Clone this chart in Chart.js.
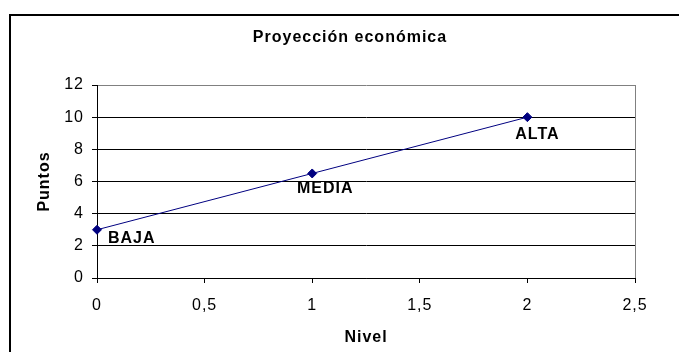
<!DOCTYPE html>
<html>
<head>
<meta charset="utf-8">
<script src="https://cdn.jsdelivr.net/npm/chart.js@4/dist/chart.umd.min.js"></script>
<style>
	html, body { margin: 0; padding: 0; background: #fff; overflow: hidden; }
	#wrap { position: relative; width: 679px; height: 352px; }
	#frame {
		position: absolute; left: 9px; top: 14px; width: 720px; height: 400px;
		border-left: 2px solid #000; border-top: 2px solid #000;
	}
	#chart { position: absolute; left: 0; top: 0; }
</style>
</head>
<body>
<div id="wrap">
	<div id="frame"></div>
	<canvas id="chart" width="679" height="352"></canvas>
</div>
<script>
/* Proyección económica — scatter with straight line and point labels */
var chartTitle = "Proyección económica";
var levels = [0, 1, 2];
var points = [3, 6.5, 10];
var pointLabels = ["BAJA", "MEDIA", "ALTA"];
var xTickLabels = ["0", "0,5", "1", "1,5", "2", "2,5"];
var yTickLabels = ["0", "2", "4", "6", "8", "10", "12"];

var FONT = "'Liberation Sans', Arial, sans-serif";
var NAVY = "#000080";

// label offsets from each point, in px (dx, baseline dy, align)
var labelPlacement = [
	{ dx: 11, dy: 13.5, align: "left" },
	{ dx: 13, dy: 20, align: "center" },
	{ dx: 10, dy: 22, align: "center" },
];

// Excel-like loose letter spacing; canvas resets state on resize, so set per draw
var spacingPlugin = {
	id: "spacing",
	beforeDraw: function (chart) {
		chart.ctx.letterSpacing = "1px";
	},
};

var decorPlugin = {
	id: "decor",
	afterDraw: function (chart) {
		var ctx = chart.ctx;
		ctx.save();
		ctx.letterSpacing = "1px";
		ctx.fillStyle = "#000";
		ctx.textBaseline = "middle";
		ctx.textAlign = "center";
		ctx.font = "bold 16px " + FONT;
		ctx.fillText(chartTitle, 350, 38);
		ctx.restore();
	},
	afterDatasetsDraw: function (chart) {
		var ctx = chart.ctx;
		var meta = chart.getDatasetMeta(0);
		ctx.save();
		ctx.letterSpacing = "1px";
		ctx.font = "bold 16px " + FONT;
		ctx.fillStyle = "#000";
		ctx.textBaseline = "alphabetic";
		meta.data.forEach(function (pt, i) {
			var p = labelPlacement[i];
			ctx.textAlign = p.align;
			ctx.fillText(pointLabels[i], pt.x + p.dx, pt.y + p.dy);
		});
		ctx.restore();
	},
};

new Chart(document.getElementById("chart"), {
	type: "scatter",
	data: {
		datasets: [{
			label: "Puntos",
			data: levels.map(function (x, i) { return { x: x, y: points[i] }; }),
			showLine: true,
			clip: false,
			borderColor: NAVY,
			borderWidth: 1,
			backgroundColor: NAVY,
			pointStyle: "rectRot",
			pointRadius: 4.5,
			pointBorderWidth: 1,
			pointBorderColor: NAVY,
		}],
	},
	options: {
		responsive: false,
		animation: false,
		events: [],
		layout: { padding: { left: 20, right: 44, top: 85, bottom: 5 } },
		plugins: {
			legend: { display: false },
			tooltip: { enabled: false },
			title: { display: false },
		},
		scales: {
			x: {
				type: "linear",
				min: 0,
				max: 2.5,
				afterFit: function (s) { s.height = 69; },
				afterBuildTicks: function (s) {
					s.ticks = xTickLabels.map(function (_, i) { return { value: i * 0.5 }; });
				},
				ticks: {
					color: "#000",
					font: { family: FONT, size: 16 },
					padding: 13,
					maxRotation: 0,
					callback: function (v, i) { return xTickLabels[i]; },
				},
				grid: {
					color: function (c) { return c.tick && c.tick.value === 2.5 ? "#808080" : "rgba(0,0,0,0)"; },
					tickColor: "#000",
					tickLength: 5,
					lineWidth: 1,
				},
				border: { color: "#000", width: 1 },
				title: {
					display: true,
					text: "Nivel",
					color: "#000",
					font: { family: FONT, size: 16, weight: "bold" },
					padding: { top: 15, bottom: 0 },
				},
			},
			y: {
				type: "linear",
				min: 0,
				max: 12,
				afterFit: function (s) { s.width = 77; },
				afterBuildTicks: function (s) {
					s.ticks = yTickLabels.map(function (_, i) { return { value: i * 2 }; });
				},
				ticks: {
					color: "#000",
					font: { family: FONT, size: 16 },
					padding: 8,
					callback: function (v, i) { return yTickLabels[i]; },
				},
				grid: {
					color: function (c) { return c.tick && c.tick.value === 12 ? "#808080" : "#000"; },
					tickColor: "#000",
					tickLength: 5,
					lineWidth: 1,
				},
				border: { color: "#000", width: 1 },
				title: {
					display: true,
					text: "Puntos",
					color: "#000",
					font: { family: FONT, size: 16, weight: "bold" },
					padding: { top: 15, bottom: 0 },
				},
			},
		},
	},
	plugins: [spacingPlugin, decorPlugin],
});
</script>
</body>
</html>
